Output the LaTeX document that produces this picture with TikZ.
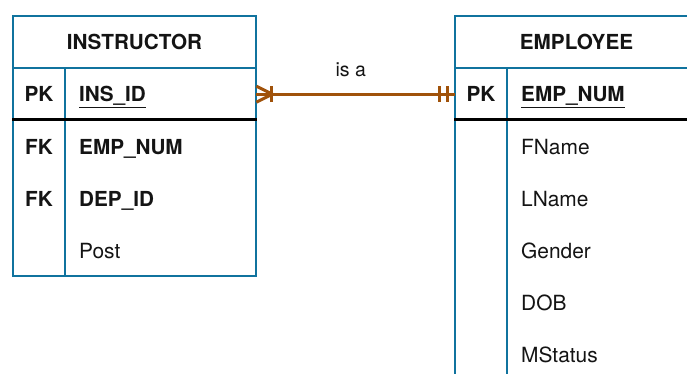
\documentclass[tikz,border=0pt]{standalone}
\usepackage{fontspec}
\setmainfont{TeX Gyre Heros}
\usetikzlibrary{calc}
\definecolor{erblue}{RGB}{16,115,158}
\definecolor{erbrown}{RGB}{160,82,10}
\definecolor{ertext}{RGB}{20,20,20}
\newcommand{\ulkey}[1]{\underline{#1}}
\tikzset{
  frame/.style={draw=erblue, line width=2.6pt},
  sepline/.style={draw=black, line width=3pt},
  title/.style={font=\fontsize{20.7}{24}\selectfont\bfseries, text=ertext, anchor=base, inner sep=0pt},
  keytxt/.style={font=\fontsize{20.7}{24}\selectfont\bfseries, text=ertext, anchor=base, inner sep=0pt},
  fieldb/.style={font=\fontsize{20.7}{24}\selectfont\bfseries, text=ertext, anchor=base west, inner sep=0pt},
  field/.style={font=\fontsize{20.9}{24}\selectfont, text=ertext, anchor=base west, inner sep=0pt},
  rowbox/.style={minimum width=243pt, minimum height=52pt, inner sep=0pt, anchor=north west},
  rel/.style={draw=erbrown, line width=3pt},
  rellabel/.style={font=\fontsize{19.5}{22}\selectfont, text=ertext, inner sep=0pt, anchor=base}
}
\begin{document}
\begin{tikzpicture}[x=1pt, y=-1pt]
\clip (0,0) rectangle (687,374);
\fill[white] (0,0) rectangle (687,374);

% ---------- INSTRUCTOR ----------
\draw[frame] (13,16) rectangle (256,276);
\draw[frame] (13,68) -- (256,68);
\draw[frame] (65,68) -- (65,276);
\draw[sepline] (12,120) -- (257,120);
\node[rowbox] (insrow) at (13,68) {};
\node[title] (institle) at (134.5,49.5) {INSTRUCTOR};
\node[keytxt] (inspk) at (39,101.5) {PK};
\node[fieldb] (insid) at (79,101.5) {\ulkey{INS\_ID}};
\node[keytxt] (insfk1) at (39,154.5) {FK};
\node[fieldb] (insemp) at (79,154.5) {EMP\_NUM};
\node[keytxt] (insfk2) at (39,206.5) {FK};
\node[fieldb] (insdep) at (79,206.5) {DEP\_ID};
\node[field] (inspost) at (79,258.5) {Post};

% ---------- EMPLOYEE ----------
\draw[frame] (455,16) rectangle (698,420);
\draw[frame] (455,68) -- (698,68);
\draw[frame] (507,68) -- (507,420);
\draw[sepline] (454,120) -- (699,120);
\node[rowbox] (emprow) at (455,68) {};
\node[title] (emptitle) at (576.5,49.5) {EMPLOYEE};
\node[keytxt] (emppk) at (481,101.5) {PK};
\node[fieldb] (empnum) at (521,101.5) {\ulkey{EMP\_NUM}};
\node[field] (empf) at (521,154.5) {FName};
\node[field] (empl) at (521,206.5) {LName};
\node[field] (empg) at (521,258.5) {Gender};
\node[field] (empd) at (521,310.5) {DOB};
\node[field] (empm) at (521,362.5) {MStatus};

% ---------- relationship ----------
\draw[rel] (insrow.east) -- (emprow.west)
  node[rellabel, pos=0.475, yshift=18pt] (rellab) {is a};
% one-or-many at INSTRUCTOR
\draw[rel] ($(insrow.east)+(0,-8)$) -- ($(insrow.east)+(16,0)$) -- ($(insrow.east)+(0,8)$);
\draw[rel] ($(insrow.east)+(15,-8)$) -- ($(insrow.east)+(15,8)$);
% exactly one at EMPLOYEE
\draw[rel] ($(emprow.west)+(-16,-8)$) -- ($(emprow.west)+(-16,8)$);
\draw[rel] ($(emprow.west)+(-8,-8)$) -- ($(emprow.west)+(-8,8)$);
\end{tikzpicture}
\end{document}
